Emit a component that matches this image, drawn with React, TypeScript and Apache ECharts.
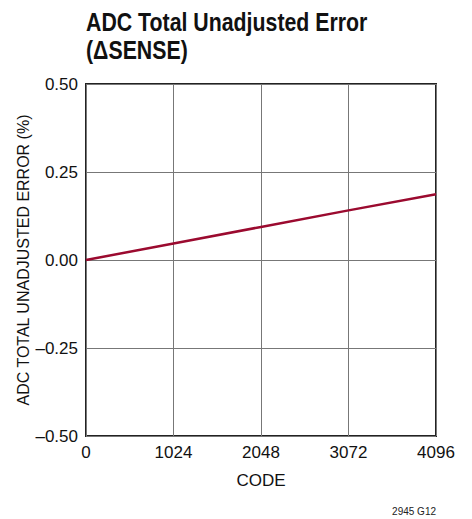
import React, { useEffect, useRef } from "react";
import * as echarts from "echarts";

const codes = [0, 1024, 2048, 3072, 4096];
const errorPct = [0, 0.047, 0.094, 0.141, 0.187];
const xTicks = [0, 1024, 2048, 3072, 4096];
const yTicks = [-0.5, -0.25, 0, 0.25, 0.5];
const titleLines = ["ADC Total Unadjusted Error", "(ΔSENSE)"];
const yAxisName = "ADC TOTAL UNADJUSTED ERROR (%)";

const FONT = "'Liberation Sans', Arial, sans-serif";

export default function App() {
  const ref = useRef<HTMLDivElement>(null);
  useEffect(() => {
    if (!ref.current) return;
    const chart = echarts.init(ref.current, undefined, { renderer: "svg" });
    chart.setOption({
      animation: false,
      backgroundColor: "#ffffff",
      graphic: [
        ...titleLines.map((t, i) => ({
          type: "text",
          x: 86,
          y: 9 + i * 28,
          scaleX: 0.82,
          style: {
            text: t,
            font: `bold 26px ${FONT}`,
            fill: "#111",
            textVerticalAlign: "top",
          },
        })),
        {
          type: "text",
          x: 23,
          y: 260,
          rotation: Math.PI / 2,
          style: {
            text: yAxisName,
            font: `16px ${FONT}`,
            fill: "#111",
            textAlign: "center",
            textVerticalAlign: "middle",
          },
        },
        {
          type: "text",
          right: 36,
          top: 506,
          style: { text: "2945 G12", font: `10px ${FONT}`, fill: "#222" },
        },
      ],
      grid: {
        left: 86,
        right: 36,
        top: 84,
        bottom: 83,
        show: true,
        borderColor: "#222",
        borderWidth: 2,
        outerBoundsMode: "none",
      },
      xAxis: {
        type: "value",
        min: 0,
        max: 4096,
        interval: 1024,
        name: "CODE",
        nameLocation: "middle",
        nameGap: 36,
        nameTextStyle: { fontFamily: FONT, fontSize: 17, color: "#111" },
        axisLine: { show: false },
        axisTick: { show: false },
        axisLabel: {
          fontFamily: FONT,
          fontSize: 17,
          color: "#111",
          margin: 8,
          customValues: xTicks,
          formatter: (v: number) => String(v),
        },
        splitLine: { lineStyle: { color: "#777", width: 1 } },
      },
      yAxis: {
        type: "value",
        min: -0.5,
        max: 0.5,
        interval: 0.25,
        axisLine: { show: false },
        axisTick: { show: false },
        axisLabel: {
          fontFamily: FONT,
          fontSize: 17,
          color: "#111",
          margin: 8,
          customValues: yTicks,
          formatter: (v: number) => v.toFixed(2).replace("-", "–"),
        },
        splitLine: { lineStyle: { color: "#777", width: 1 } },
      },
      series: [
        {
          type: "line",
          data: codes.map((c, i) => [c, errorPct[i]]),
          showSymbol: false,
          lineStyle: { color: "#9b0a2f", width: 2.5 },
        },
      ],
    });
    return () => chart.dispose();
  }, []);
  return <div ref={ref} style={{ position: "fixed", left: 0, top: 0, width: 472, height: 519 }} />;
}
